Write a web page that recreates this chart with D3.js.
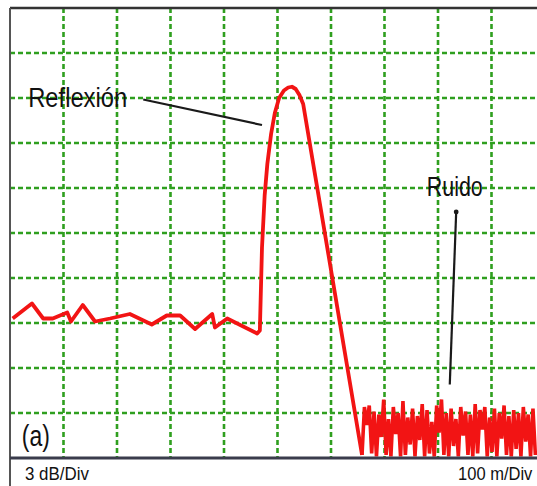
<!DOCTYPE html>
<html>
<head>
<meta charset="utf-8">
<script src="https://cdn.jsdelivr.net/npm/d3@7"></script>
<style>
  html, body { margin: 0; padding: 0; background: #fff; }
  svg { display: block; }
  text { font-family: "Liberation Sans", Arial, sans-serif; fill: #111; }
</style>
</head>
<body>
<div id="vis"></div>
<script>
var width = 537, height = 486
var margin = { top: 8, left: 10, bottom: 28, right: -8 }

// distance (m) and level (dB)
var traceDist = [5, 41, 62, 80, 107, 114, 136, 159, 187, 224, 265, 293, 318, 346, 378, 383, 406, 462,
                 467, 471, 476, 481, 488, 495, 503, 512, 520, 527, 534, 541, 548, 658]
var traceDb   = [9.3, 10.3, 9.3, 9.3, 9.7, 9.1, 10.2, 9.1, 9.3, 9.6, 8.9, 9.5, 9.5, 8.6, 9.6, 8.7, 9.3, 8.3,
                 8.5, 14.0, 17.5, 19.6, 21.6, 23.0, 24.0, 24.5, 24.7, 24.75, 24.6, 24.2, 23.6, 0.2]

// noise floor after the reflection
var noiseStart = 658, noiseStep = 4.5
var noiseDb = [0.2, 3.4, 2.2, 3.5, 0.3, 3.1, 0.1, 2.9, 1.4, 3.9, 0.2, 2.6, 0.1, 3.4, 1.6, 3.0, 0.1, 3.8,
               0.2, 2.7, 0.9, 3.3, 0.1, 2.8, 1.2, 3.6, 0.1, 3.2, 0.3, 2.4, 0.1, 3.5, 1.7, 3.9, 0.2, 3.0,
               0.1, 3.3, 0.8, 2.6, 0.1, 3.4, 1.5, 3.1, 0.2, 2.9, 0.1, 3.6, 0.3, 3.2, 1.9, 3.4, 0.1, 2.7,
               0.4, 3.3, 0.1, 3.0, 1.3, 3.5, 0.2, 2.8, 0.1, 3.2, 0.6, 3.0, 0.1, 3.4, 1.1, 2.9, 0.1, 3.3, 0.2]

var xDivs = d3.range(100, 1000, 100)   // 100 m/Div
var yDivs = d3.range(3, 30, 3)         // 3 dB/Div

var labels = [
  { text: 'Reflexión', m: 34, db: 23.4, len: 99, size: 27 },
  { text: 'Ruido', m: 779, db: 17.5, len: 56, size: 27 },
  { text: '(a)', m: 22, db: 0.8, len: 28, size: 30 }
]
var leaders = [
  { m1: 249, db1: 23.9, m2: 471, db2: 22.2, dot: false },
  { m1: 834, db1: 16.4, m2: 822, db2: 4.9, dot: true }
]
var scaleText = ['3 dB/Div', '100 m/Div']

var svg = d3.select('#vis').append('svg')
    .attr('width', width)
    .attr('height', height)

var x = d3.scaleLinear().domain([0, 1000]).range([margin.left, 545])
var y = d3.scaleLinear().domain([0, 30]).range([height - margin.bottom, margin.top])

var g = svg.append('g')

// grid
g.selectAll('.vgrid').data(xDivs).enter().append('line')
  .attr('class', 'vgrid')
  .attr('x1', d => x(d)).attr('x2', d => x(d))
  .attr('y1', y(30)).attr('y2', y(0))
  .attr('stroke', '#2f9f1f').attr('stroke-width', 2.6)
  .attr('stroke-dasharray', '5,3')
g.selectAll('.hgrid').data(yDivs).enter().append('line')
  .attr('class', 'hgrid')
  .attr('x1', x(0)).attr('x2', width)
  .attr('y1', d => y(d)).attr('y2', d => y(d))
  .attr('stroke', '#2f9f1f').attr('stroke-width', 2.6)
  .attr('stroke-dasharray', '5,3')

// trace
var lineGen = d3.line().x(d => x(d[0])).y(d => y(d[1]))
var main = traceDist.map((d, i) => [d, traceDb[i]])
var noise = noiseDb.map((d, i) => [noiseStart + i * noiseStep, d])

g.append('path')
  .attr('d', lineGen(main))
  .attr('fill', 'none').attr('stroke', '#f21414').attr('stroke-width', 3.8)
  .attr('stroke-linejoin', 'round')
g.append('path')
  .attr('d', lineGen(noise))
  .attr('fill', 'none').attr('stroke', '#f21414').attr('stroke-width', 3.6)
  .attr('stroke-linejoin', 'miter')

// frame
g.append('line').attr('x1', x(0)).attr('x2', width).attr('y1', y(30)).attr('y2', y(30))
  .attr('stroke', '#333').attr('stroke-width', 2.4)
g.append('line').attr('x1', x(0)).attr('x2', x(0)).attr('y1', y(30)).attr('y2', height)
  .attr('stroke', '#555').attr('stroke-width', 2)
g.append('line').attr('x1', x(0)).attr('x2', width).attr('y1', y(0)).attr('y2', y(0))
  .attr('stroke', '#3a3c4c').attr('stroke-width', 3)

// annotations
g.selectAll('.leader').data(leaders).enter().append('line')
  .attr('class', 'leader')
  .attr('x1', d => x(d.m1)).attr('y1', d => y(d.db1))
  .attr('x2', d => x(d.m2)).attr('y2', d => y(d.db2))
  .attr('stroke', '#1a1a1a').attr('stroke-width', 2.2)
g.selectAll('.dot').data(leaders.filter(d => d.dot)).enter().append('circle')
  .attr('cx', d => x(d.m1)).attr('cy', d => y(d.db1)).attr('r', 2.4).attr('fill', '#1a1a1a')

g.selectAll('.lbl').data(labels).enter().append('text')
  .attr('class', 'lbl')
  .attr('x', d => x(d.m)).attr('y', d => y(d.db))
  .attr('font-size', d => d.size)
  .attr('textLength', d => d.len).attr('lengthAdjust', 'spacingAndGlyphs')
  .text(d => d.text)

// scale readouts under the screen, squeezed like the instrument font
g.append('text').attr('transform', 'translate(25,480) scale(0.89,1)')
  .attr('font-size', 19).text(scaleText[0])
g.append('text').attr('transform', 'translate(458,480) scale(0.87,1)')
  .attr('font-size', 19).text(scaleText[1])
</script>
</body>
</html>
